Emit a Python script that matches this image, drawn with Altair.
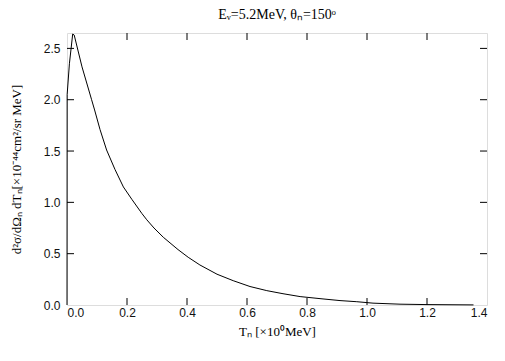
import altair as alt
import pandas as pd

# Curve
T_n = [0.0, 0.0005, 0.008, 0.019, 0.024, 0.05, 0.082, 0.092, 0.11, 0.132, 0.16,
       0.188, 0.216, 0.25, 0.266, 0.29, 0.321, 0.37, 0.404, 0.443, 0.5, 0.554,
       0.61, 0.666, 0.72, 0.777, 0.85, 0.91, 0.966, 1.02, 1.11, 1.2, 1.3, 1.355]
sigma = [0.0, 2.05, 2.35, 2.64, 2.63, 2.32, 2.0, 1.90, 1.71, 1.51, 1.32,
         1.15, 1.03, 0.89, 0.83, 0.75, 0.66, 0.54, 0.465, 0.39, 0.30, 0.237,
         0.18, 0.14, 0.11, 0.082, 0.06, 0.043, 0.032, 0.018, 0.008, 0.004, 0.002, 0.001]

x_ticks = [0.0, 0.2, 0.4, 0.6, 0.8, 1.0, 1.2, 1.4]
y_ticks = [0.0, 0.5, 1.0, 1.5, 2.0, 2.5]
x_max = 1.4
y_max = 2.65

curve = pd.DataFrame({"x": T_n, "y": sigma, "i": list(range(len(T_n)))})

xs = alt.Scale(domain=[0, x_max], nice=False, zero=False)
ys = alt.Scale(domain=[0, y_max], nice=False, zero=False)

xaxis = alt.Axis(values=x_ticks, format=".1f", ticks=False, domain=False, grid=False,
                 labelFont="Liberation Sans", labelFontSize=12, labelColor="#111",
                 labelPadding=2, title="Tₙ [×10⁰MeV]", titleFont="Liberation Serif",
                 titleFontSize=13, titleFontWeight="normal", titlePadding=7)
yaxis = alt.Axis(values=y_ticks, format=".1f", ticks=False, domain=False, grid=False,
                 labelFont="Liberation Sans", labelFontSize=12, labelColor="#111",
                 labelPadding=7, title="d²σ/dΩₙ dTₙ[×10⁻⁴⁴cm²/sr MeV]",
                 titleFont="Liberation Serif", titleFontSize=13, titleFontWeight="normal",
                 titleX=-51, titleY=136, titleBaseline="middle", titleAlign="center")

line = alt.Chart(curve).mark_line(color="black", strokeWidth=1, interpolate="linear").encode(
    x=alt.X("x:Q", scale=xs, axis=xaxis),
    y=alt.Y("y:Q", scale=ys, axis=yaxis),
    order="i:Q",
)

inner_x = [v for v in x_ticks if 0 < v < x_max]
inner_y = [v for v in y_ticks if 0 < v < y_max]

def tick_layer(df, shape):
    return alt.Chart(df).mark_point(shape=shape, size=196, filled=False,
                                    stroke="black", strokeWidth=1, opacity=1).encode(
        x=alt.X("x:Q", scale=xs, axis=xaxis),
        y=alt.Y("y:Q", scale=ys, axis=yaxis),
    )

bottom = tick_layer(pd.DataFrame({"x": inner_x, "y": [0.0] * len(inner_x)}), "M0,0L0,-1")
top = tick_layer(pd.DataFrame({"x": inner_x, "y": [y_max] * len(inner_x)}), "M0,0L0,1")
left = tick_layer(pd.DataFrame({"x": [0.0] * len(inner_y), "y": inner_y}), "M0,0L1,0")
right = tick_layer(pd.DataFrame({"x": [x_max] * len(inner_y), "y": inner_y}), "M0,0L-1,0")

chart = alt.layer(line, bottom, top, left, right).properties(
    width=420, height=272,
    title=alt.TitleParams("Eᵥ=5.2MeV, θₙ=150ᵒ", font="Liberation Serif", fontSize=14,
                          fontWeight="normal", offset=9),
    autosize=alt.AutoSizeParams(type="none"),
    padding={"left": 59, "top": 25, "right": 10, "bottom": 40},
).configure_view(stroke="black", strokeWidth=1).configure(background="white")

chart.save("out.html", embed_options={"renderer": "svg", "actions": False})
